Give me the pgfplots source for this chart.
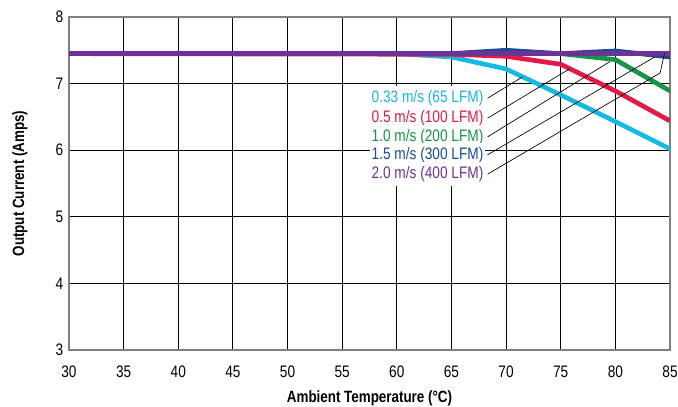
\documentclass[border=0pt]{standalone}
\usepackage{pgfplots}
\pgfplotsset{compat=1.18}
\usepackage{fontspec}
\setmainfont{Liberation Sans}[FakeStretch=0.82]
\definecolor{ccyan}{RGB}{20,185,230}
\definecolor{cred}{RGB}{230,25,70}
\definecolor{cgreen}{RGB}{20,150,70}
\definecolor{cblue}{RGB}{25,75,145}
\definecolor{cpurple}{RGB}{110,50,150}
\begin{document}
\begin{tikzpicture}
\begin{axis}[
    scale only axis,
    width=360.6pt, height=199.8pt,
    xmin=30, xmax=85, ymin=3, ymax=8,
    xtick={30,35,...,85}, ytick={3,4,...,8},
    grid=major,
    major grid style={black, line width=0.5pt},
    axis line style={gray, line width=0.8pt},
    major tick length=0pt,
    /pgf/number format/assume math mode=true,
    ticklabel style={font=\fontsize{10}{12}\selectfont},
    xticklabel style={yshift=-6pt},
    xlabel={\bfseries Ambient Temperature (°C)},
    ylabel={\bfseries Output Current (Amps)},
    label style={font=\fontsize{9.8}{11}\selectfont},
    xlabel style={yshift=-1.2pt},
    ylabel style={yshift=10pt},
    every axis plot/.append style={line width=2.8pt},
]
\addplot[ccyan] coordinates {(30,7.45) (60,7.45) (65,7.40) (70,7.22) (75,6.83) (80,6.43) (85,6.02)};
\addplot[cred] coordinates {(30,7.45) (65,7.44) (70,7.41) (75,7.29) (80,6.89) (85,6.44)};
\addplot[cgreen] coordinates {(30,7.45) (70,7.45) (75,7.45) (80,7.36) (85,6.89)};
\addplot[cblue] coordinates {(30,7.45) (65,7.45) (70,7.50) (75,7.45) (80,7.49) (85,7.40)};
\addplot[cpurple] coordinates {(30,7.45) (85,7.45)};

\draw[black, line width=0.4pt] (axis cs:68.3,6.78) -- (axis cs:71.5,7.10);
\draw[black, line width=0.4pt] (axis cs:68.3,6.48) -- (axis cs:75.8,7.22);
\draw[black, line width=0.4pt] (axis cs:68.3,6.20) -- (axis cs:79.5,7.33);
\draw[black, line width=0.4pt] (axis cs:68.3,5.93) -- (axis cs:83.6,7.40);
\draw[black, line width=0.4pt] (axis cs:68.3,5.64) -- (axis cs:84.1,7.16) -- (axis cs:84.5,7.46);

\begin{scope}[every node/.style={anchor=east, fill=white, inner xsep=1pt, inner ysep=2.5pt, font=\fontsize{10}{12}\selectfont}]
\node[text=ccyan] at (axis cs:68.1,6.78) {0.33 m/s (65 LFM)};
\node[text=cred] at (axis cs:68.1,6.48) {0.5 m/s (100 LFM)};
\node[text=cgreen] at (axis cs:68.1,6.20) {1.0 m/s (200 LFM)};
\node[text=cblue] at (axis cs:68.1,5.93) {1.5 m/s (300 LFM)};
\node[text=cpurple] at (axis cs:68.1,5.64) {2.0 m/s (400 LFM)};
\end{scope}
\end{axis}
\pgfresetboundingbox
\path[use as bounding box] ([shift={(-41.4pt,-33.6pt)}]current axis.south west) rectangle ([shift={(4.8pt,10.2pt)}]current axis.north east);
\end{tikzpicture}
\end{document}
